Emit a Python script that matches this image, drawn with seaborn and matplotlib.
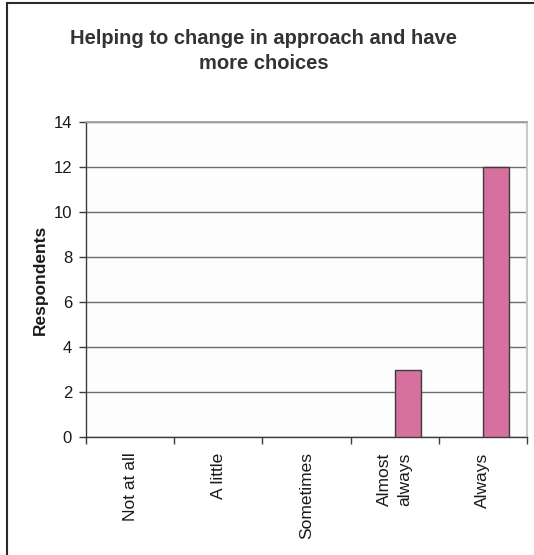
import matplotlib
matplotlib.use("Agg")
import matplotlib.pyplot as plt
from matplotlib.patches import Rectangle
from matplotlib.ticker import FixedLocator
import seaborn as sns
import pandas as pd

categories = ["Not at all", "A little", "Sometimes", "Almost\nalways", "Always"]
respondents = [0, 0, 0, 3, 12]
series_name = "Respondents"
title = "Helping to change in approach and have\nmore choices"
y_ticks = [0, 2, 4, 6, 8, 10, 12, 14]

sns.set_theme(style="white")
plt.rcParams["font.family"] = ["Liberation Sans", "DejaVu Sans"]

df = pd.DataFrame({"category": categories, "value": respondents, "series": series_name})

fig = plt.figure(figsize=(5.34, 5.55), dpi=100)
fig.patch.set_facecolor("white")
ax = fig.add_axes([86 / 534, 1 - 437 / 555, (527 - 86) / 534, (437 - 122) / 555])
ax.set_facecolor("#fdfdfd")

# Two-slot clustered layout: the data series occupies the right slot
sns.barplot(data=df, x="category", y="value", hue="series",
            hue_order=["", series_name], order=categories,
            palette={"": "#d6709f", series_name: "#d6709f"}, saturation=1,
            width=0.59, dodge=True, edgecolor="#3c3c3c", linewidth=1.0,
            legend=False, ax=ax, zorder=3)

# Zero-height bars leave no visible mark
for bar in ax.patches:
    if bar.get_height() == 0:
        bar.set_visible(False)

ax.set_ylim(0, 14)
ax.set_xlim(-0.5, len(categories) - 0.5)
ax.set_yticks(y_ticks)
ax.yaxis.grid(True, color="#6e6e6e", linewidth=1.0, zorder=0)
ax.set_axisbelow(True)

ax.set_xlabel("")
ax.set_ylabel("Respondents", fontsize=12.5, fontweight="bold", color="#1a1a1a", labelpad=4)
ax.tick_params(axis="y", direction="out", length=5, width=1, color="#3c3c3c",
               labelsize=12, labelcolor="#1a1a1a", pad=5, left=True)
ax.set_xticks(range(len(categories)))
ax.set_xticklabels(categories, rotation=90, va="top", ha="center", fontsize=12.5,
                   color="#1a1a1a", linespacing=1.5)
ax.tick_params(axis="x", which="major", length=0, pad=11)
ax.xaxis.set_minor_locator(FixedLocator([i - 0.5 for i in range(len(categories) + 1)]))
ax.tick_params(axis="x", which="minor", direction="out", length=5, width=1,
               color="#3c3c3c", bottom=True)

for side in ("left", "bottom"):
    ax.spines[side].set_color("#3c3c3c")
    ax.spines[side].set_linewidth(1.0)
ax.spines["top"].set_color("#a0a0a0")
ax.spines["right"].set_color("#c8c8c8")
ax.spines["right"].set_linewidth(1.5)

fig.text(264 / 534, 1 - 51 / 555, title, ha="center", va="center", fontsize=14.5,
         fontweight="bold", color="#333333", linespacing=1.45)

# Chart-area frame
fig.patches.append(Rectangle((7 / 534, -0.1), 1.2, 1 - 3 / 555 + 0.1,
                             transform=fig.transFigure, fill=False,
                             edgecolor="#2a2a2a", linewidth=1.5, clip_on=False))

fig.savefig("out.png", dpi=100)
